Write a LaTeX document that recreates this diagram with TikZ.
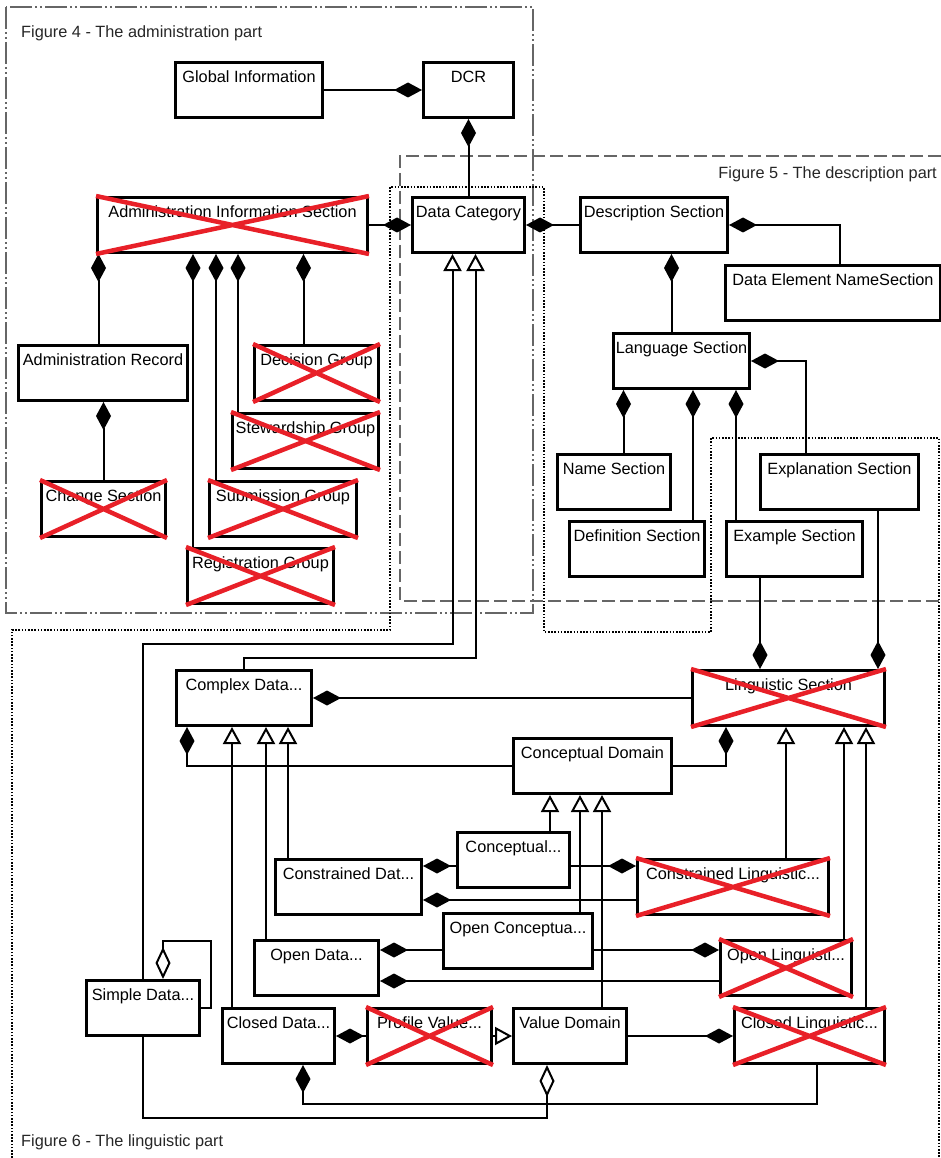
\documentclass[tikz,border=0pt]{standalone}
\usepackage{fontspec}
\setmainfont{Liberation Sans}
\usetikzlibrary{arrows.meta}
\definecolor{crossred}{RGB}{232,32,40}

\begin{document}
\begin{tikzpicture}[
    x=1pt, y=-1pt,
    font=\fontsize{16.3}{19}\selectfont,
    box/.style={rectangle, draw, line width=3pt, anchor=north west, inner sep=0pt, minimum height=55pt, text height=20pt, text depth=35pt},
    comp/.style={-{Diamond[length=28pt, width=15pt]}, line width=2pt},
    agg/.style={-{Diamond[open, length=32pt, width=15pt]}, line width=2pt},
    gen/.style={-{Triangle[open, length=17pt, width=18pt]}, line width=2pt},
    cross/.style={draw=crossred, line width=4.5pt},
    adminframe/.style={draw=black!60, line width=1.3pt, dash pattern=on 22pt off 3pt on 2pt off 3pt on 2pt off 3pt},
    descframe/.style={draw=black!60, line width=1.3pt, dash pattern=on 13pt off 5pt},
    lingframe/.style={draw=black, line width=2pt, dash pattern=on 1.6pt off 1.6pt},
    caption/.style={inner sep=0pt, text=black!85}
]
\useasboundingbox (0,0) rectangle (941,1158);

% the three parts
\draw[adminframe] (6,7) rectangle (533,613);
\draw[descframe] (941,156) -- (400,156) -- (400,601) -- (941,601);
\draw[lingframe] (12,1158) -- (12,630) -- (390,630) -- (390,187) -- (544,187) -- (544,632) -- (711,632) -- (711,438) -- (939,438) -- (939,1158);

\node[caption, anchor=base west] (fig4) at (21,38) {Figure 4 - The administration part};
\node[caption, anchor=base east] (fig5) at (937,179) {Figure 5 - The description part};
\node[caption, anchor=base west] (fig6) at (21,1146) {Figure 6 - The linguistic part};

% administration part
\node[box, minimum width=147pt] (glob) at (174,61) {Global Information};
\node[box, minimum width=90pt] (dcr) at (422,61) {DCR};
\node[box, minimum width=270pt] (ais) at (96,196) {Administration Information Section};
\node[box, minimum width=112pt] (dc) at (411,196) {Data Category};
\node[box, minimum width=169pt] (admrec) at (17,344) {Administration Record};
\node[box, minimum width=124pt] (dec) at (253,344) {Decision Group};
\node[box, minimum width=146pt] (stew) at (231,412) {Stewardship Group};
\node[box, minimum width=124pt] (chg) at (40,480) {Change Section};
\node[box, minimum width=147pt] (sub) at (208,480) {Submission Group};
\node[box, minimum width=146pt] (reg) at (186,547) {Registration Group};

% description part
\node[box, minimum width=147pt] (desc) at (579,196) {Description Section};
\node[box, minimum width=215pt] (dens) at (724,264) {Data Element NameSection};
\node[box, minimum width=136pt] (lang) at (612,332) {Language Section};
\node[box, minimum width=113pt] (name) at (556,453) {Name Section};
\node[box, minimum width=158pt] (expl) at (759,453) {Explanation Section};
\node[box, minimum width=135pt] (defn) at (568,520) {Definition Section};
\node[box, minimum width=136pt] (exam) at (725,520) {Example Section};

% linguistic part
\node[box, minimum width=135pt] (cplx) at (175,669) {Complex Data...};
\node[box, minimum width=192pt] (ling) at (691,669) {Linguistic Section};
\node[box, minimum width=158pt] (cd) at (512,737) {Conceptual Domain};
\node[box, minimum width=112pt] (concept) at (456,831) {Conceptual...};
\node[box, minimum width=146pt] (cons) at (274,858) {Constrained Dat...};
\node[box, minimum width=191pt] (conling) at (636,858) {Constrained Linguistic...};
\node[box, minimum width=149pt] (opencon) at (442,912) {Open Conceptua...};
\node[box, minimum width=124pt] (opdata) at (253,939) {Open Data...};
\node[box, minimum width=131pt] (opling) at (719,939) {Open Linguisti...};
\node[box, minimum width=113pt] (simple) at (85,979) {Simple Data...};
\node[box, minimum width=112pt] (clsd) at (221,1007) {Closed Data...};
\node[box, minimum width=124pt] (prof) at (366,1007) {Profile Value...};
\node[box, minimum width=113pt] (vd) at (512,1007) {Value Domain};
\node[box, minimum width=150pt] (clling) at (733,1007) {Closed Linguistic...};

% administration links
\draw[comp] (glob.east) -- (dcr.west);
\draw[comp] (dc.north) -- (dcr.south);
\draw[comp] (ais.east) -- (dc.west);
\draw[comp] ([xshift=-4.5pt]admrec.north) -- ([xshift=-4.5pt]admrec.north |- ais.south);
\draw[comp] ([xshift=7pt]reg.north west) -- ([xshift=7pt]reg.north west |- ais.south);
\draw[comp] ([xshift=8pt]sub.north west) -- ([xshift=8pt]sub.north west |- ais.south);
\draw[comp] ([xshift=7pt]stew.north west) -- ([xshift=7pt]stew.north west |- ais.south);
\draw[comp] ([xshift=-13pt]dec.north) -- ([xshift=-13pt]dec.north |- ais.south);
\draw[comp] (chg.north) -- (chg.north |- admrec.south);

% description links
\draw[comp] (desc.west) -- (dc.east);
\draw[comp] ([xshift=6.5pt]dens.north) |- (desc.east);
\draw[comp] ([xshift=-10pt]lang.north) -- ([xshift=-10pt]lang.north |- desc.south);
\draw[comp] ([xshift=-34pt]expl.north) |- (lang.east);
\draw[comp] ([xshift=9.5pt]name.north) -- ([xshift=9.5pt]name.north |- lang.south);
\draw[comp] ([xshift=-13pt]defn.north east) -- ([xshift=-13pt]defn.north east |- lang.south);
\draw[comp] ([xshift=11pt]exam.north west) -- ([xshift=11pt]exam.north west |- lang.south);
\draw[comp] ([xshift=35pt]exam.south west) -- ([xshift=35pt]exam.south west |- ling.north);
\draw[comp] ([xshift=-42pt]expl.south east) -- ([xshift=-42pt]expl.south east |- ling.north);

% linguistic links
\draw[comp] (ling.west) -- (cplx.east);
\draw[gen] (simple.north) -- ++(0,-335) -| ([xshift=-16pt]dc.south);
\draw[gen] (cplx.north) -- ++(0,-11) -| ([xshift=7pt]dc.south);
\draw[comp] (cd.west) -| ([xshift=12pt]cplx.south west);
\draw[comp] (cd.east) -| ([xshift=35pt]ling.south west);
\draw[gen] ([xshift=11pt]clsd.north west) -- ([xshift=11pt]clsd.north west |- cplx.south);
\draw[gen] ([xshift=13pt]opdata.north west) -- ([xshift=13pt]opdata.north west |- cplx.south);
\draw[gen] ([xshift=14pt]cons.north west) -- ([xshift=14pt]cons.north west |- cplx.south);
\draw[gen] ([xshift=-21pt]concept.north east) -- ([xshift=-21pt]concept.north east |- cd.south);
\draw[gen] ([xshift=-14pt]opencon.north east) -- ([xshift=-14pt]opencon.north east |- cd.south);
\draw[gen] ([xshift=-26pt]vd.north east) -- ([xshift=-26pt]vd.north east |- cd.south);
\draw[gen] ([xshift=-44pt]conling.north east) -- ([xshift=-44pt]conling.north east |- ling.south);
\draw[gen] ([xshift=-9pt]opling.north east) -- ([xshift=-9pt]opling.north east |- ling.south);
\draw[gen] ([xshift=-20pt]clling.north east) -- ([xshift=-20pt]clling.north east |- ling.south);
\draw[comp] ([yshift=-8pt]concept.west |- cons.north east) -- ([yshift=-8pt]cons.north east);
\draw[comp] ([yshift=-8pt]concept.east |- conling.north west) -- ([yshift=-8pt]conling.north west);
\draw[comp] ([yshift=16pt]conling.south west) -- ([yshift=16pt]cons.south east);
\draw[comp] ([yshift=-11pt]opencon.west |- opdata.north east) -- ([yshift=-11pt]opdata.north east);
\draw[comp] ([yshift=-11pt]opencon.east |- opling.north west) -- ([yshift=-11pt]opling.north west);
\draw[comp] ([yshift=16pt]opling.south west) -- ([yshift=16pt]opdata.south east);
\draw[comp] (prof.west) -- (clsd.east);
\draw[gen] (prof.east) -- (vd.west);
\draw[comp] (vd.east) -- (clling.west);
\draw[comp] ([xshift=84pt]clling.south west) -- ++(0,39) -| ([xshift=-33pt]clsd.south east);
\draw[agg] (simple.south) -- ++(0,81) -| ([xshift=35pt]vd.south west);
\draw[agg] ([yshift=-29pt]simple.north east) -| ++(10,-67) -| ([xshift=78pt]simple.north west);

% crossed out classes
\draw[cross] (ais.north west) -- (ais.south east) (ais.south west) -- (ais.north east);
\draw[cross] (dec.north west) -- (dec.south east) (dec.south west) -- (dec.north east);
\draw[cross] (stew.north west) -- (stew.south east) (stew.south west) -- (stew.north east);
\draw[cross] (chg.north west) -- (chg.south east) (chg.south west) -- (chg.north east);
\draw[cross] (sub.north west) -- (sub.south east) (sub.south west) -- (sub.north east);
\draw[cross] (reg.north west) -- (reg.south east) (reg.south west) -- (reg.north east);
\draw[cross] (ling.north west) -- (ling.south east) (ling.south west) -- (ling.north east);
\draw[cross] (conling.north west) -- (conling.south east) (conling.south west) -- (conling.north east);
\draw[cross] (opling.north west) -- (opling.south east) (opling.south west) -- (opling.north east);
\draw[cross] (prof.north west) -- (prof.south east) (prof.south west) -- (prof.north east);
\draw[cross] (clling.north west) -- (clling.south east) (clling.south west) -- (clling.north east);

\end{tikzpicture}
\end{document}
